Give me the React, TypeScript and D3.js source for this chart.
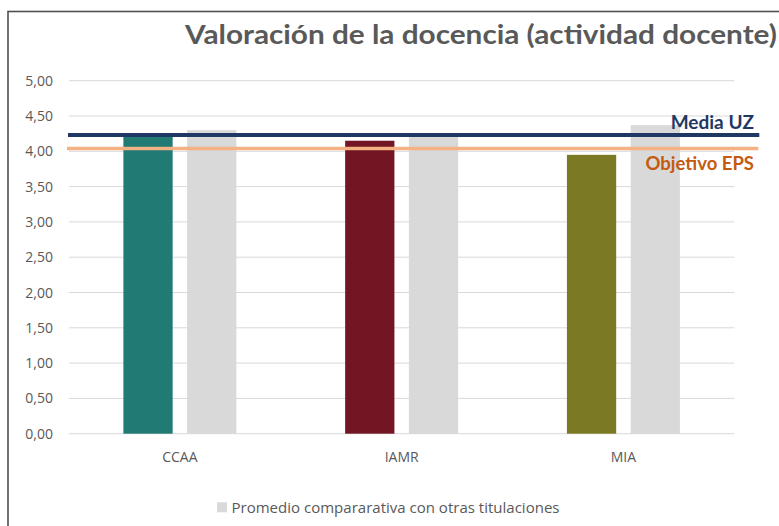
import React from 'react';
import * as d3 from 'd3';

const categories = ['CCAA', 'IAMR', 'MIA'];
const ownValues = [4.22, 4.15, 3.95];
const avgValues = [4.3, 4.22, 4.37];
const ownColors = ['#217A74', '#731523', '#7B7923'];
const yTicks = [0, 0.5, 1, 1.5, 2, 2.5, 3, 3.5, 4, 4.5, 5];
const mediaUZ = 4.23;
const objetivoEPS = 4.04;

const W = 779;
const H = 526;
const font = 'Lato, "Open Sans", sans-serif';
const smallFont = '"Open Sans", Lato, sans-serif';
const textGrey = '#595959';
const lightGrey = '#D9D9D9';

const fmt = (v: number) => v.toFixed(2).replace('.', ',');

const App = () => {
  const x = d3.scaleBand<string>().domain(categories).range([69, 734.3]);
  const inner = d3
    .scaleBand<string>()
    .domain(['own', 'avg'])
    .range([-56.5, 56.5])
    .paddingInner(0.227);
  const y = d3.scaleLinear().domain([0, 5]).range([433.7, 80.7]);

  const [x0, x1] = x.range();

  return (
    <svg
      width={W}
      height={H}
      style={{ position: 'absolute', left: 0, top: 0, background: '#fff' }}
    >
      <rect x={8} y={11.5} width={900} height={700} fill="#fff" stroke="#505050" strokeWidth={1.6} />

      <text
        x={185}
        y={43.5}
        fontFamily={font}
        fontWeight={700}
        fontSize={26}
        fill={textGrey}
        textLength={592}
        lengthAdjust="spacingAndGlyphs"
      >
        Valoración de la docencia (actividad docente)
      </text>

      {/* grid + y labels */}
      {yTicks.map((t) => (
        <g key={t}>
          <line x1={x0} x2={x1} y1={y(t)} y2={y(t)} stroke={lightGrey} strokeWidth={1} />
          <text
            x={53}
            y={y(t)}
            dy="0.36em"
            textAnchor="end"
            fontFamily={smallFont}
            fontSize={14}
            fill={textGrey}
          >
            {fmt(t)}
          </text>
        </g>
      ))}

      {/* bars */}
      {categories.map((c, i) => {
        const cx = (x(c) ?? 0) + x.bandwidth() / 2;
        return (
          <g key={c}>
            <rect
              x={cx + (inner('own') ?? 0)}
              y={y(ownValues[i])}
              width={inner.bandwidth()}
              height={y(0) - y(ownValues[i])}
              fill={ownColors[i]}
            />
            <rect
              x={cx + (inner('avg') ?? 0)}
              y={y(avgValues[i])}
              width={inner.bandwidth()}
              height={y(0) - y(avgValues[i])}
              fill={lightGrey}
            />
            <text
              x={cx}
              y={461.5}
              textAnchor="middle"
              fontFamily={smallFont}
              fontSize={14}
              fill={textGrey}
            >
              {c}
            </text>
          </g>
        );
      })}

      {/* reference lines */}
      <line
        x1={x0 - 2}
        x2={x1 + 24}
        y1={y(objetivoEPS)}
        y2={y(objetivoEPS)}
        stroke="#F4B183"
        strokeWidth={3.5}
      />
      <line
        x1={x0 - 1}
        x2={x1 + 25}
        y1={y(mediaUZ)}
        y2={y(mediaUZ)}
        stroke="#203864"
        strokeWidth={4}
      />
      <text
        x={754}
        y={129}
        textAnchor="end"
        fontFamily={font}
        fontWeight={700}
        fontSize={19}
        fill="#1F3864"
      >
        Media UZ
      </text>
      <text
        x={754}
        y={170}
        textAnchor="end"
        fontFamily={font}
        fontWeight={700}
        fontSize={18.5}
        fill="#C55A11"
      >
        Objetivo EPS
      </text>

      {/* legend */}
      <rect x={217} y={502.3} width={10} height={10} fill={lightGrey} />
      <text
        x={231.5}
        y={512.5}
        fontFamily={smallFont}
        fontSize={14}
        fill={textGrey}
        textLength={328}
        lengthAdjust="spacingAndGlyphs"
      >
        Promedio compararativa con otras titulaciones
      </text>
    </svg>
  );
};

export default App;
